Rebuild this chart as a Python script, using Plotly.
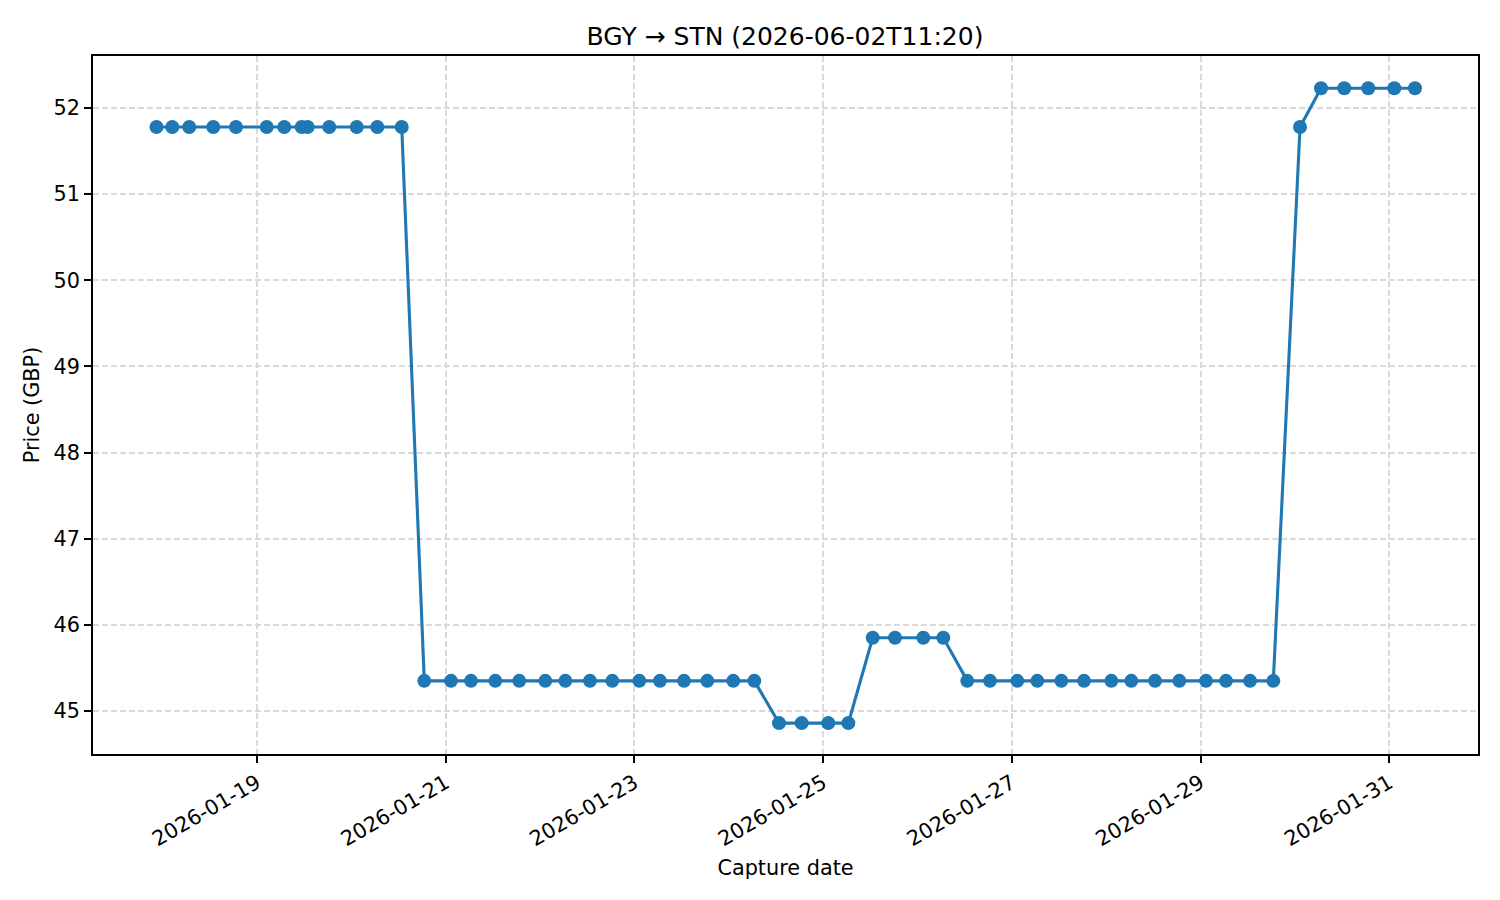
import plotly.graph_objects as go

capture_times = [
    "2026-01-17 22:26", "2026-01-18 02:27", "2026-01-18 06:46", "2026-01-18 12:53",
    "2026-01-18 18:39", "2026-01-19 02:28", "2026-01-19 06:56", "2026-01-19 11:22",
    "2026-01-19 12:53", "2026-01-19 18:23", "2026-01-20 01:22", "2026-01-20 06:36",
    "2026-01-20 12:49",
    "2026-01-20 18:33", "2026-01-21 01:21", "2026-01-21 06:26", "2026-01-21 12:37",
    "2026-01-21 18:43", "2026-01-22 01:20", "2026-01-22 06:26", "2026-01-22 12:42",
    "2026-01-22 18:23", "2026-01-23 01:15", "2026-01-23 06:30", "2026-01-23 12:37",
    "2026-01-23 18:33", "2026-01-24 01:09", "2026-01-24 06:30",
    "2026-01-24 12:47", "2026-01-24 18:33", "2026-01-25 01:19", "2026-01-25 06:25",
    "2026-01-25 12:37", "2026-01-25 18:17", "2026-01-26 01:29", "2026-01-26 06:34",
    "2026-01-26 12:40", "2026-01-26 18:27", "2026-01-27 01:24", "2026-01-27 06:29",
    "2026-01-27 12:36", "2026-01-27 18:22", "2026-01-28 01:19", "2026-01-28 06:24",
    "2026-01-28 12:26", "2026-01-28 18:37", "2026-01-29 01:24", "2026-01-29 06:29",
    "2026-01-29 12:36", "2026-01-29 18:31",
    "2026-01-30 01:19", "2026-01-30 06:39", "2026-01-30 12:34", "2026-01-30 18:40",
    "2026-01-31 01:18", "2026-01-31 06:33",
]

prices = (
    [51.78] * 13
    + [45.35] * 15
    + [44.86] * 4
    + [45.85] * 4
    + [45.35] * 14
    + [51.78]
    + [52.23] * 5
)

x_tick_vals = ["2026-01-19", "2026-01-21", "2026-01-23", "2026-01-25",
               "2026-01-27", "2026-01-29", "2026-01-31"]
y_tick_vals = [45, 46, 47, 48, 49, 50, 51, 52]

color = "#1f77b4"
font_family = "DejaVu Sans"

fig = go.Figure()
fig.add_trace(go.Scatter(
    x=capture_times, y=prices, mode="lines+markers",
    line=dict(color=color, width=3.1),
    marker=dict(color=color, size=14),
    showlegend=False,
))

axis_common = dict(
    showline=True, linecolor="black", linewidth=1.7, mirror=True,
    ticks="outside", ticklen=7, tickwidth=1.7, tickcolor="black",
    showgrid=True, gridcolor="#dadada", griddash="6px,3px", gridwidth=1.6,
    zeroline=False,
    tickfont=dict(family=font_family, size=20.8, color="black"),
)

fig.update_layout(
    width=1500, height=900,
    paper_bgcolor="white", plot_bgcolor="white",
    margin=dict(l=85, r=30, t=48, b=154),
    font=dict(family=font_family, color="black"),
    title=dict(text="BGY → STN (2026-06-02T11:20)", x=(785 - 8) / 1500, xanchor="center",
               y=1 - 28 / 900, yanchor="middle",
               font=dict(family=font_family, size=25, color="black")),
    xaxis=dict(
        axis_common,
        type="date",
        range=["2026-01-17 06:17", "2026-01-31 22:35"],
        tickvals=x_tick_vals, tickformat="%Y-%m-%d", tickangle=-30,
        title=dict(text="Capture date", standoff=10,
                   font=dict(family=font_family, size=20.8, color="black")),
    ),
    yaxis=dict(
        axis_common,
        range=[44.501, 52.604],
        tickvals=y_tick_vals,
        title=dict(text="Price (GBP)", standoff=8,
                   font=dict(family=font_family, size=20.8, color="black")),
    ),
)

fig.write_html("out.html")
